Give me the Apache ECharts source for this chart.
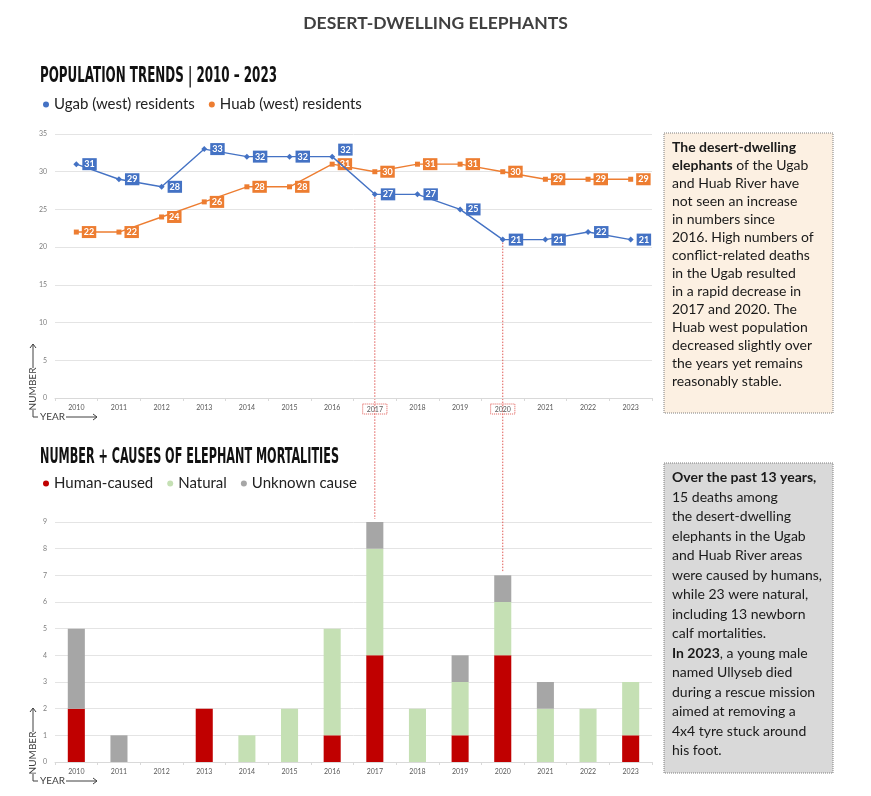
<!DOCTYPE html>
<html><head><meta charset="utf-8">
<script src="https://cdn.jsdelivr.net/npm/echarts@6/dist/echarts.min.js"></script>
<style>html,body{margin:0;padding:0;background:#fff}#c{width:871px;height:796px}</style>
</head><body><div id="c"></div>
<script>
// ---------- data ----------
const years = ['2010','2011','2012','2013','2014','2015','2016','2017','2018','2019','2020','2021','2022','2023'];
const ugabWest = [31,29,28,33,32,32,32,27,27,25,21,21,22,21];
const huabWest = [22,22,24,26,28,28,31,30,31,31,30,29,29,29];
const humanCaused = [2,0,0,2,0,0,1,4,0,1,4,0,0,1];
const naturalDeaths = [0,0,0,0,1,2,4,4,2,2,2,2,2,2];
const unknownCause = [3,1,0,0,0,0,0,1,0,1,1,1,0,0];
const popAxis = {min:0, max:35, interval:5};
const mortAxis = {min:0, max:9, interval:1};
const highlightYears = ['2017','2020'];

const seriesNames = ['Ugab (west) residents','Huab (west) residents'];
const causeNames = ['Human-caused','Natural','Unknown cause'];

// ---------- style ----------
const BLUE='#4472C4', ORANGE='#ED7D31', RED='#C00000', GREEN='#C5E0B4', GREY='#A6A6A6';
const FONT='Lato';
const G0={left:55,right:219,top:134,height:264};
const G1={left:55,right:219,top:522,height:240};

const chart = echarts.init(document.getElementById('c'), null, {renderer:'canvas'});

function xAxisCfg(idx, withHl){
  return {
    type:'category', data:years, gridIndex:idx, boundaryGap:true,
    axisLine:{lineStyle:{color:'#d9d9d9'}},
    axisTick:{show:true,length:3,lineStyle:{color:'#d9d9d9'}},
    axisLabel:{fontSize:7,color:'#595959',fontFamily:FONT,margin:6,
      formatter: v => (withHl && highlightYears.includes(v)) ? '{hl|'+v+'}' : v,
      rich:{hl:{fontSize:7,color:'#595959',fontFamily:FONT,borderColor:'#e05a55',borderWidth:1,borderType:'dotted',padding:[2,4,1,4]}}}
  };
}
function yAxisCfg(idx, ax){
  return {type:'value', gridIndex:idx, min:ax.min, max:ax.max, interval:ax.interval,
    axisLine:{show:false}, axisTick:{show:false},
    axisLabel:{fontSize:7,color:'#7f7f7f',fontFamily:FONT,margin:8},
    splitLine:{lineStyle:{color:'#e4e4e4',width:1}}};
}
function lineLabel(color){
  return {show:true,position:'right',distance:3,backgroundColor:color,color:'#fff',
    fontWeight:'bold',fontSize:9,fontFamily:FONT,padding:[2,2,1,2]};
}
// lift the Ugab label where it would collide with the Huab label
const ugabData = ugabWest.map((v,i)=> Math.abs(v-huabWest[i])<=1 ? {value:v,label:{offset:[0,-7]}} : v);

chart.setOption({
  animation:false,
  backgroundColor:'#fff',
  title:{text:'DESERT-DWELLING ELEPHANTS',left:'center',top:9,
    textStyle:{fontFamily:FONT,fontSize:17.5,fontWeight:'bold',color:'#404040'}},
  legend:[
    {data:seriesNames,left:38,top:92,icon:'circle',itemWidth:6,itemHeight:6,itemGap:14,
     textStyle:{fontFamily:FONT,fontSize:15,color:'#222'}},
    {data:causeNames,left:38,top:471,icon:'circle',itemWidth:6,itemHeight:6,itemGap:14,
     textStyle:{fontFamily:FONT,fontSize:15,color:'#222'}}
  ],
  grid:[G0,G1],
  xAxis:[xAxisCfg(0,true), xAxisCfg(1,false)],
  yAxis:[yAxisCfg(0,popAxis), yAxisCfg(1,mortAxis)],
  series:[
    {name:seriesNames[0],type:'line',xAxisIndex:0,yAxisIndex:0,data:ugabData,z:3,
     symbol:'diamond',symbolSize:6,itemStyle:{color:BLUE},lineStyle:{color:BLUE,width:1.4},
     label:lineLabel(BLUE)},
    {name:seriesNames[1],type:'line',xAxisIndex:0,yAxisIndex:0,data:huabWest,z:2,
     symbol:'rect',symbolSize:5,itemStyle:{color:ORANGE},lineStyle:{color:ORANGE,width:1.4},
     label:lineLabel(ORANGE)},
    {name:causeNames[0],type:'bar',stack:'m',xAxisIndex:1,yAxisIndex:1,data:humanCaused,barWidth:'40%',itemStyle:{color:RED}},
    {name:causeNames[1],type:'bar',stack:'m',xAxisIndex:1,yAxisIndex:1,data:naturalDeaths,barWidth:'40%',itemStyle:{color:GREEN}},
    {name:causeNames[2],type:'bar',stack:'m',xAxisIndex:1,yAxisIndex:1,data:unknownCause,barWidth:'40%',itemStyle:{color:GREY}}
  ]
});

// ---------- decorations ----------
const graphics = [];
const mctx = document.createElement('canvas').getContext('2d');
const TFONT = 'bold 21px "DejaVu Sans Condensed", "Liberation Sans Narrow", sans-serif';
function sectionTitle(text, y, targetW){
  mctx.font = TFONT;
  const w = mctx.measureText(text).width;
  graphics.push({type:'text',x:40,y:y,scaleX:targetW/w,
    style:{text:text,font:TFONT,fill:'#111',textVerticalAlign:'middle'}});
}
sectionTitle('POPULATION TRENDS | 2010 – 2023', 77, 237);
sectionTitle('NUMBER + CAUSES OF ELEPHANT MORTALITIES', 458, 299);

function axisArrows(yB){
  const x=33, c='#404040', ls={stroke:c,lineWidth:1};
  graphics.push({type:'polyline',shape:{points:[[x,yB-30],[x,yB-54]]},style:ls});
  graphics.push({type:'polyline',shape:{points:[[x-3,yB-50],[x,yB-54],[x+3,yB-50]]},style:ls});
  graphics.push({type:'text',x:x,y:yB-9,rotation:Math.PI/2,
    style:{text:'NUMBER',font:'10px Lato',fill:c,textAlign:'center',textVerticalAlign:'middle'}});
  graphics.push({type:'polyline',shape:{points:[[x,yB+12],[x,yB+19],[x+5,yB+19]]},style:ls});
  graphics.push({type:'text',x:x+7,y:yB+19,
    style:{text:'YEAR',font:'10px Lato',fill:c,textVerticalAlign:'middle'}});
  graphics.push({type:'polyline',shape:{points:[[x+33,yB+19],[x+64,yB+19]]},style:ls});
  graphics.push({type:'polyline',shape:{points:[[x+60,yB+16],[x+64,yB+19],[x+60,yB+22]]},style:ls});
}
axisArrows(G0.top+G0.height);
axisArrows(G1.top+G1.height);

highlightYears.forEach(y=>{
  const i = years.indexOf(y);
  const p1 = chart.convertToPixel({xAxisIndex:0,yAxisIndex:0},[i,ugabWest[i]]);
  const tot = humanCaused[i]+naturalDeaths[i]+unknownCause[i];
  const p2 = chart.convertToPixel({xAxisIndex:1,yAxisIndex:1},[i,tot]);
  graphics.push({type:'line',shape:{x1:p1[0],y1:p1[1]+3,x2:p1[0],y2:p2[1]-3},
    style:{stroke:'#e05a55',lineWidth:1,lineDash:[1.5,1.5]},z:0});
});

const boxTxt1 = [
  '{b|The desert-dwelling}',
  '{b|elephants} of the Ugab',
  'and Huab River have',
  'not seen an increase',
  'in numbers since',
  '2016. High numbers of',
  'conflict-related deaths',
  'in the Ugab resulted',
  'in a rapid decrease in',
  '2017 and 2020. The',
  'Huab west population',
  'decreased slightly over',
  'the years yet remains',
  'reasonably stable.'
].join('\n');
const boxTxt2 = [
  '{b|Over the past 13 years,}',
  '15 deaths among',
  'the desert-dwelling',
  'elephants in the Ugab',
  'and Huab River areas',
  'were caused by humans,',
  'while 23 were natural,',
  'including 13 newborn',
  'calf mortalities.',
  '{b|In 2023}, a young male',
  'named Ullyseb died',
  'during a rescue mission',
  'aimed at removing a',
  '4x4 tyre stuck around',
  'his foot.'
].join('\n');
function textBox(x,y,w,h,fill,txt,lh){
  graphics.push({type:'rect',shape:{x:x,y:y,width:w,height:h},
    style:{fill:fill,stroke:'#7f7f7f',lineWidth:1,lineDash:[1,1]}});
  graphics.push({type:'text',x:x+8,y:y+5,
    style:{text:txt,font:'14px Lato',fill:'#1a1a1a',lineHeight:lh,
      rich:{b:{fontFamily:'Lato',fontSize:14,fontWeight:'bold',lineHeight:lh,fill:'#1a1a1a'}}}});
}
textBox(664,133,169,280,'#fcf0e2',boxTxt1,18);
textBox(664,463,169,310,'#d9d9d9',boxTxt2,19.5);

chart.setOption({graphic:graphics});
</script>
</body></html>
